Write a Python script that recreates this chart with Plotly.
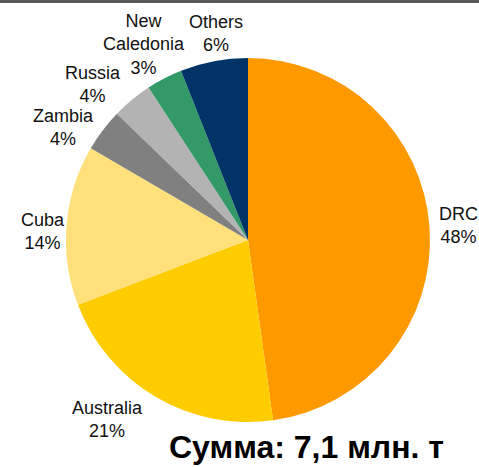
import math
import plotly.graph_objects as go

countries = ["DRC", "Australia", "Cuba", "Zambia", "Russia", "New Caledonia", "Others"]
display_labels = ["DRC", "Australia", "Cuba", "Zambia", "Russia", "New<br>Caledonia", "Others"]
shares = [47.8, 21.4, 14.2, 3.8, 3.6, 3.2, 6.0]
colors = ["#FF9900", "#FFCC00", "#FFE07A", "#808080", "#B3B3B3", "#339966", "#003366"]
total_text = "Сумма: 7,1 млн. т"

# label layout style (Excel-like best-fit placement): distance from centre as a
# multiple of the pie radius, and an angular nudge (degrees) off the slice mid-angle
label_dist = [1.16, 1.254, 1.13, 1.186, 1.21, 1.216, 1.151]
label_nudge = [0.0, 7.4, -2.2, -5.8, -5.3, -0.6, 1.9]

W, H = 479, 467
ML, MR, MT, MB = 66, 49, 58, 45
plot_w = W - ML - MR
plot_h = H - MT - MB
FONT = "Liberation Sans, Arial, sans-serif"

fig = go.Figure(go.Pie(
    labels=countries,
    values=shares,
    textinfo="none",
    marker=dict(colors=colors, line=dict(width=0)),
    sort=False,
    direction="clockwise",
    rotation=0,
    showlegend=False,
    hoverinfo="label+percent",
))

total = sum(shares)
annotations = []
cum = 0.0
for lab, v, d, nud in zip(display_labels, shares, label_dist, label_nudge):
    mid = (cum + v / 2.0) / total
    cum += v
    theta = 2 * math.pi * mid + math.radians(nud)
    x = 0.5 + 0.5 * d * math.sin(theta)
    y = 0.5 + 0.5 * d * math.cos(theta)
    pct = round(100.0 * v / total)
    annotations.append(dict(
        text=f"{lab}<br>{pct}%", xref="paper", yref="paper", x=x, y=y,
        xanchor="center", yanchor="middle", showarrow=False, align="center",
        font=dict(family=FONT, size=18, color="#111111"),
    ))

annotations.append(dict(
    text="<b>" + total_text + "</b>", xref="paper", yref="paper",
    x=(306 - ML) / plot_w, y=(H - MB - 447) / plot_h,
    xanchor="center", yanchor="middle", showarrow=False,
    font=dict(family=FONT, size=32, color="#000000"),
))

fig.update_layout(
    width=W, height=H,
    margin=dict(l=ML, r=MR, t=MT, b=MB),
    paper_bgcolor="white",
    plot_bgcolor="white",
    font=dict(family=FONT),
    annotations=annotations,
)

# top gray rule (pixels 0..3 from the top of the page)
fig.add_shape(type="rect", xref="paper", yref="paper", layer="above",
              x0=-0.3, x1=1.3,
              y0=(H - MB - 3) / plot_h, y1=(H - MB + 2) / plot_h,
              fillcolor="#595959", line=dict(width=0))

fig.write_html(
    "out.html",
    config={"displayModeBar": False},
    post_script="document.body.style.margin='0px';document.body.style.overflow='hidden';",
)
